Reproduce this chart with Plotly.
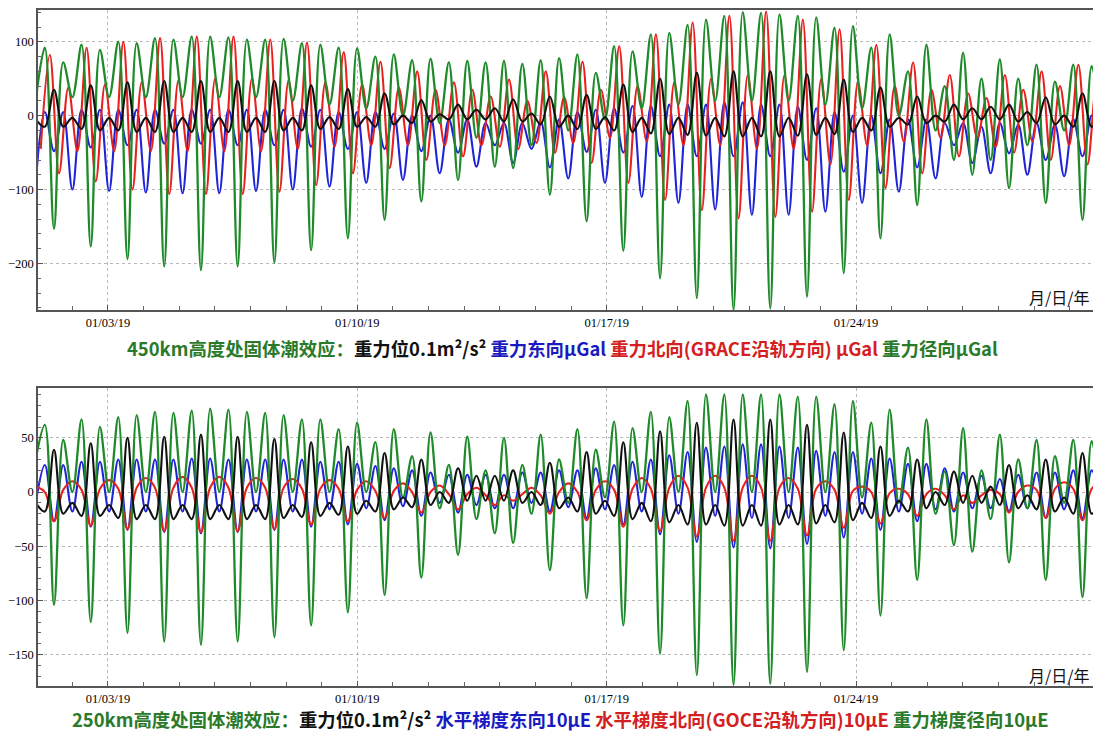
import numpy as np
import pandas as pd
import plotly.graph_objects as go

# ---------------- data (extrema, one value every quarter lunar day) -------------
STEP_DAYS = 0.2578      # sampling step between successive extrema (quarter lunar day)
START_DAYS = -0.031     # first sample, days after 2019-01-01 00:00
RED_TOP_SHIFT = 0.142   # phase shift of the red curve in the upper panel (days)

# Upper panel (450 km)
top_potential = [
    -5, -15, 35, -15,  -3, -18, 41, -20,  -3, -20, 45, -22,  -3, -22, 47, -22,
    -3, -22, 47, -22,  -3, -22, 47, -22,  -3, -22, 47, -20,  -3, -20, 41, -18,
    -2, -18, 36, -15,  -2, -15, 30, -12,   0, -10, 21, -8,    2, -5, 15, -5,
     8, -5, 10, -8,    22, -8, 3, -12,    26, -15, 0, -18,   28, -18, -2, -20,
    42, -22, -3, -24,  50, -25, -3, -26,  58, -27, -3, -28,  60, -28, -3, -28,
    60, -28, -3, -27,  56, -26, -3, -25,  49, -22, -3, -20,  38, -15, -3, -12,
    26, -10, 0, -8,    15, -5, 10, -5,    12, -5, 15, -8,     5, -10, 25, -12,
     0, -15, 30, -15,  0]
top_east = [
    -92, 5, -48, 5,    -100, 8, -43, 8,   -102, 8, -40, 8,   -104, 8, -38, 8,
    -105, 8, -38, 8,   -105, 8, -40, 8,   -102, 8, -40, 8,   -100, 10, -42, 8,
    -96, 5, -45, 5,    -91, 5, -45, 3,    -87, 0, -48, 0,    -78, -5, -50, -5,
    -69, -10, -40, -10, -64, -10, -45, -8, -70, -5, -85, 5,   -49, 8, -91, 10,
    -50, 13, -110, 13, -55, 15, -118, 15, -55, 15, -127, 18, -55, 18, -134, 15,
    -55, 15, -134, 12, -60, 10, -130, 5,  -76, 0, -118, 0,   -78, -5, -103, -5,
    -70, -5, -85, -10, -40, -10, -64, -15, -78, -10, -51, -12, -80, -10, -60, -12,
    -82, -5, -55, 0,   -60]
top_north = [
    -45, 82, -78, 38,  -48, 92, -89, 42,  -48, 100, -100, 45, -48, 105, -106, 48,
    -48, 107, -106, 50, -48, 107, -106, 50, -48, 103, -103, 48, -45, 99, -94, 45,
    -42, 86, -78, 42,  -40, 73, -71, 38,  -40, 60, -60, 35,  -40, 45, -55, 35,
    -40, 26, -42, 49,  -45, 20, -37, 60,  -50, 25, -37, 73,  -64, 35, -30, 94,
    -91, 40, -35, 110, -114, 45, -40, 126, -128, 50, -40, 135, -139, 55, -45, 141,
    -137, 55, -45, 130, -130, 50, -66, 117, -114, 45, -40, 96, -98, 40, -35, 72,
    -78, 35, -30, 55,  -55, 30, -30, 24,  -42, 55, -50, 35,  -35, 60, -60, 40,
    -40, 69, -66, 45,  -60]
top_radial = [
    20, 92, -153, 72,   25, 96, -177, 89,   25, 100, -194, 98,  25, 105, -204, 103,
    25, 107, -209, 107, 25, 106, -204, 103, 25, 103, -199, 104, 20, 98, -182, 96,
    15, 92, -166, 91,   10, 80, -141, 83,   0, 75, -116, 77,    -10, 72, -87, 74,
    -30, 72, -69, 74,   -71, 70, -40, 75,  -107, 78, -20, 83,  -143, 58, -5, 94,
    -183, 87, 10, 110,  -220, 112, 15, 123, -247, 130, 20, 135, -263, 140, 20, 139,
    -261, 137, 20, 135, -245, 133, 15, 119, -213, 121, 10, 92, -166, 110, 0, 60,
    -121, 96, -20, 40,  -60, 85, -80, 50,  -60, 76, -98, 50,  -40, 69, -118, 46,
    -20, 69, -141, 67,  -10]

# Lower panel (250 km)
bot_potential = [
    -10, -18, 39, -20, -10, -22, 45, -22, -12, -24, 50, -25, -12, -25, 51, -25,
    -12, -25, 53, -25, -12, -25, 51, -25, -12, -25, 49, -24, -12, -23, 46, -22,
    -10, -21, 42, -20, -8, -18, 36, -16,  -5, -14, 30, -12,   0, -10, 22, -8,
    15, -8, 15, -8,    20, -10, 0, -12,   27, -15, -5, -18,  37, -20, -8, -22,
    46, -25, -10, -27, 56, -28, -12, -30, 64, -30, -12, -31, 67, -31, -12, -31,
    67, -30, -12, -30, 62, -29, -12, -28, 55, -26, -10, -24, 42, -22, -8, -18,
    30, -15, 0, -12,   19, -10, 15, -10,  5, -12, 25, -15,   -3, -16, 30, -18,
    -5, -20, 36, -20,  -5]
bot_east = [
    -10, 25, -27, 25,  -18, 28, -32, 28,  -18, 30, -35, 30,  -18, 30, -37, 30,
    -18, 31, -38, 31,  -18, 30, -37, 30,  -18, 30, -35, 30,  -18, 30, -32, 28,
    -16, 28, -30, 26,  -15, 24, -26, 22,  -13, 20, -22, 18,  -10, 16, -19, 16,
    -12, 16, -15, 16,  -15, 18, -10, 18,  -18, 20, -14, 20,  -24, 22, -16, 25,
    -30, 28, -18, 30,  -39, 34, -20, 37,  -46, 41, -22, 42,  -51, 44, -24, 44,
    -52, 42, -24, 41,  -48, 38, -22, 37,  -42, 37, -20, 31,  -35, 31, -18, 26,
    -27, 26, -16, 22,  -18, 18, -15, 15,  -15, 12, -18, 16,  -15, 18, -24, 18,
    -16, 20, -24, 20,  -15]
bot_north = [
    5, 0, -27, 2,      10, 2, -31, 3,     11, 3, -34, 4,     13, 4, -36, 4,
    14, 4, -37, 4,     14, 4, -36, 4,     13, 4, -34, 4,     12, 3, -30, 3,
    11, 3, -27, 2,     10, 1, -24, 1,     8, 0, -19, 0,      6, -2, -16, -2,
    4, -3, -12, -3,    -8, -2, 4, -3,     -20, 0, 8, 0,      -26, 2, 10, 2,
    -32, 3, 13, 3,     -36, 4, 15, 4,     -41, 4, 15, 4,     -45, 4, 15, 4,
    -45, 4, 13, 3,     -40, 3, 10, 2,     -33, 1, 5, 0,      -29, -1, 3, -2,
    -22, -2, 3, -3,    -16, -3, -10, -3,  2, -2, -19, 0,     6, 2, -24, 3,
    9, 3, -26, 3,      9]
bot_radial = [
    30, 62, -104, 48,  0, 67, -120, 60,   0, 69, -130, 71,   0, 74, -138, 73,
    0, 75, -141, 77,   0, 76, -138, 74,   0, 73, -134, 71,   0, 67, -123, 67,
    0, 58, -111, 64,   0, 46, -95, 58,    -5, 33, -79, 55,   -15, 25, -58, 51,
    -25, 20, -38, 50,  -47, 25, -20, 53,  -72, 30, -10, 58,  -98, 39, -5, 65,
    -123, 59, 0, 74,   -149, 69, 0, 84,   -169, 90, 0, 90,   -178, 90, 0, 90,
    -177, 90, 0, 88,   -166, 88, 0, 81,   -146, 84, -5, 64,  -114, 76, -10, 41,
    -81, 67, -20, 19,  -49, 59, -55, 20,  -25, 53, -65, 30,  -15, 48, -81, 33,
    -10, 48, -97, 47,  -5]

tick_dates = ["2019-01-03", "2019-01-10", "2019-01-17", "2019-01-24"]
tick_labels = ["01/03/19", "01/10/19", "01/17/19", "01/24/19"]
top_yticks = [-200, -100, 0, 100]
bot_yticks = [-150, -100, -50, 0, 50]

# ---------------- figure -------------------------------------------------------------------------
base = pd.Timestamp("2019-01-01")
n = len(top_radial)
times = base + pd.to_timedelta(START_DAYS + STEP_DAYS * np.arange(n), unit="D")
times_red = times + pd.to_timedelta(RED_TOP_SHIFT, unit="D")

GREEN = "#1f8a2a"
RED = "#e8211f"
BLUE = "#1f24d6"
BLACK = "#111111"
CAP_GREEN = "#2a7a2a"
CAP_BLUE = "#1a1ac0"
CAP_RED = "#d42020"

fig = go.Figure()

def add(x, y, color, xa, ya, width=2.1):
    fig.add_trace(go.Scatter(x=x, y=y, mode="lines", xaxis=xa, yaxis=ya,
                             line=dict(color=color, width=width, shape="spline", smoothing=1.0),
                             showlegend=False, hoverinfo="skip"))

# upper panel
add(times, top_east, BLUE, "x", "y")
add(times_red, top_north, RED, "x", "y")
add(times, top_radial, GREEN, "x", "y", 2.3)
add(times, top_potential, BLACK, "x", "y")
# lower panel
add(times, bot_east, BLUE, "x2", "y2")
add(times, bot_north, RED, "x2", "y2")
add(times, bot_radial, GREEN, "x2", "y2", 2.3)
add(times, bot_potential, BLACK, "x2", "y2")

# The page body has an 8 px margin, so the figure is 8 px smaller and everything shifted by 8 px.
OFF = 8
W, H = 1101 - OFF, 731 - OFF
def px_x(v):
    return (v - OFF) / W
def px_y(v):
    return 1 - (v - OFF) / H

xdom = [px_x(38), px_x(1099)]
top_dom = [px_y(310), px_y(10)]
bot_dom = [px_y(686), px_y(388)]
xrange = [base + pd.Timedelta(days=0.035), base + pd.Timedelta(days=29.822)]

axis_font = dict(family="Liberation Serif", size=12.5, color="#000")
common_x = dict(type="date", range=xrange, tickvals=tick_dates, ticktext=tick_labels,
                showgrid=True, gridcolor="#b8b8b8", griddash="dot", gridwidth=1,
                showline=True, linecolor="#555", linewidth=1.5, mirror=True,
                ticks="inside", ticklen=5, tickcolor="#555", tickfont=axis_font,
                minor=dict(dtick=86400000, ticks="inside", ticklen=4, tickcolor="#666", showgrid=False),
                zeroline=False, fixedrange=True)
common_y = dict(showgrid=True, gridcolor="#b8b8b8", griddash="dot", gridwidth=1,
                showline=True, linecolor="#555", linewidth=1.5, mirror=True,
                ticks="inside", ticklen=5, tickcolor="#555", tickfont=axis_font,
                zeroline=False, fixedrange=True)

fig.update_layout(
    width=W, height=H, margin=dict(l=0, r=0, t=0, b=0),
    paper_bgcolor="white", plot_bgcolor="white",
    xaxis=dict(domain=xdom, anchor="y", **common_x),
    yaxis=dict(domain=top_dom, anchor="x", range=[-263, 143], tickvals=top_yticks,
               minor=dict(dtick=20, ticks="inside", ticklen=3, tickcolor="#666", showgrid=False),
               **common_y),
    xaxis2=dict(domain=xdom, anchor="y2", **common_x),
    yaxis2=dict(domain=bot_dom, anchor="x2", range=[-179, 96], tickvals=bot_yticks,
                minor=dict(dtick=10, ticks="inside", ticklen=3, tickcolor="#666", showgrid=False),
                **common_y),
)

cap_font = dict(family="Noto Sans CJK SC", size=18.4)
top_caption = (
    f'<span style="color:{CAP_GREEN}"><b>450km高度处固体潮效应：</b></span>'
    f'<span style="color:#111"><b>重力位0.1m²/s²</b></span> '
    f'<span style="color:{CAP_BLUE}"><b>重力东向µGal</b></span> '
    f'<span style="color:{CAP_RED}"><b>重力北向(GRACE沿轨方向) µGal</b></span> '
    f'<span style="color:{CAP_GREEN}"><b>重力径向µGal</b></span>'
)
bot_caption = (
    f'<span style="color:{CAP_GREEN}"><b>250km高度处固体潮效应：</b></span>'
    f'<span style="color:#111"><b>重力位0.1m²/s²</b></span> '
    f'<span style="color:{CAP_BLUE}"><b>水平梯度东向10µE</b></span> '
    f'<span style="color:{CAP_RED}"><b>水平梯度北向(GOCE沿轨方向)10µE</b></span> '
    f'<span style="color:{CAP_GREEN}"><b>重力梯度径向10µE</b></span>'
)
fig.add_annotation(xref="paper", yref="paper", x=px_x(562), y=px_y(348), text=top_caption,
                   showarrow=False, font=cap_font, xanchor="center", yanchor="middle", borderpad=0)
fig.add_annotation(xref="paper", yref="paper", x=px_x(560), y=px_y(719), text=bot_caption,
                   showarrow=False, font=cap_font, xanchor="center", yanchor="middle", borderpad=0)
unit_font = dict(family="Noto Sans CJK SC", size=16, color="#111")
fig.add_annotation(xref="paper", yref="paper", x=px_x(1092), y=px_y(297), text="月/日/年",
                   showarrow=False, font=unit_font, xanchor="right", yanchor="middle")
fig.add_annotation(xref="paper", yref="paper", x=px_x(1092), y=px_y(675), text="月/日/年",
                   showarrow=False, font=unit_font, xanchor="right", yanchor="middle")

fig.write_html("out.html")
